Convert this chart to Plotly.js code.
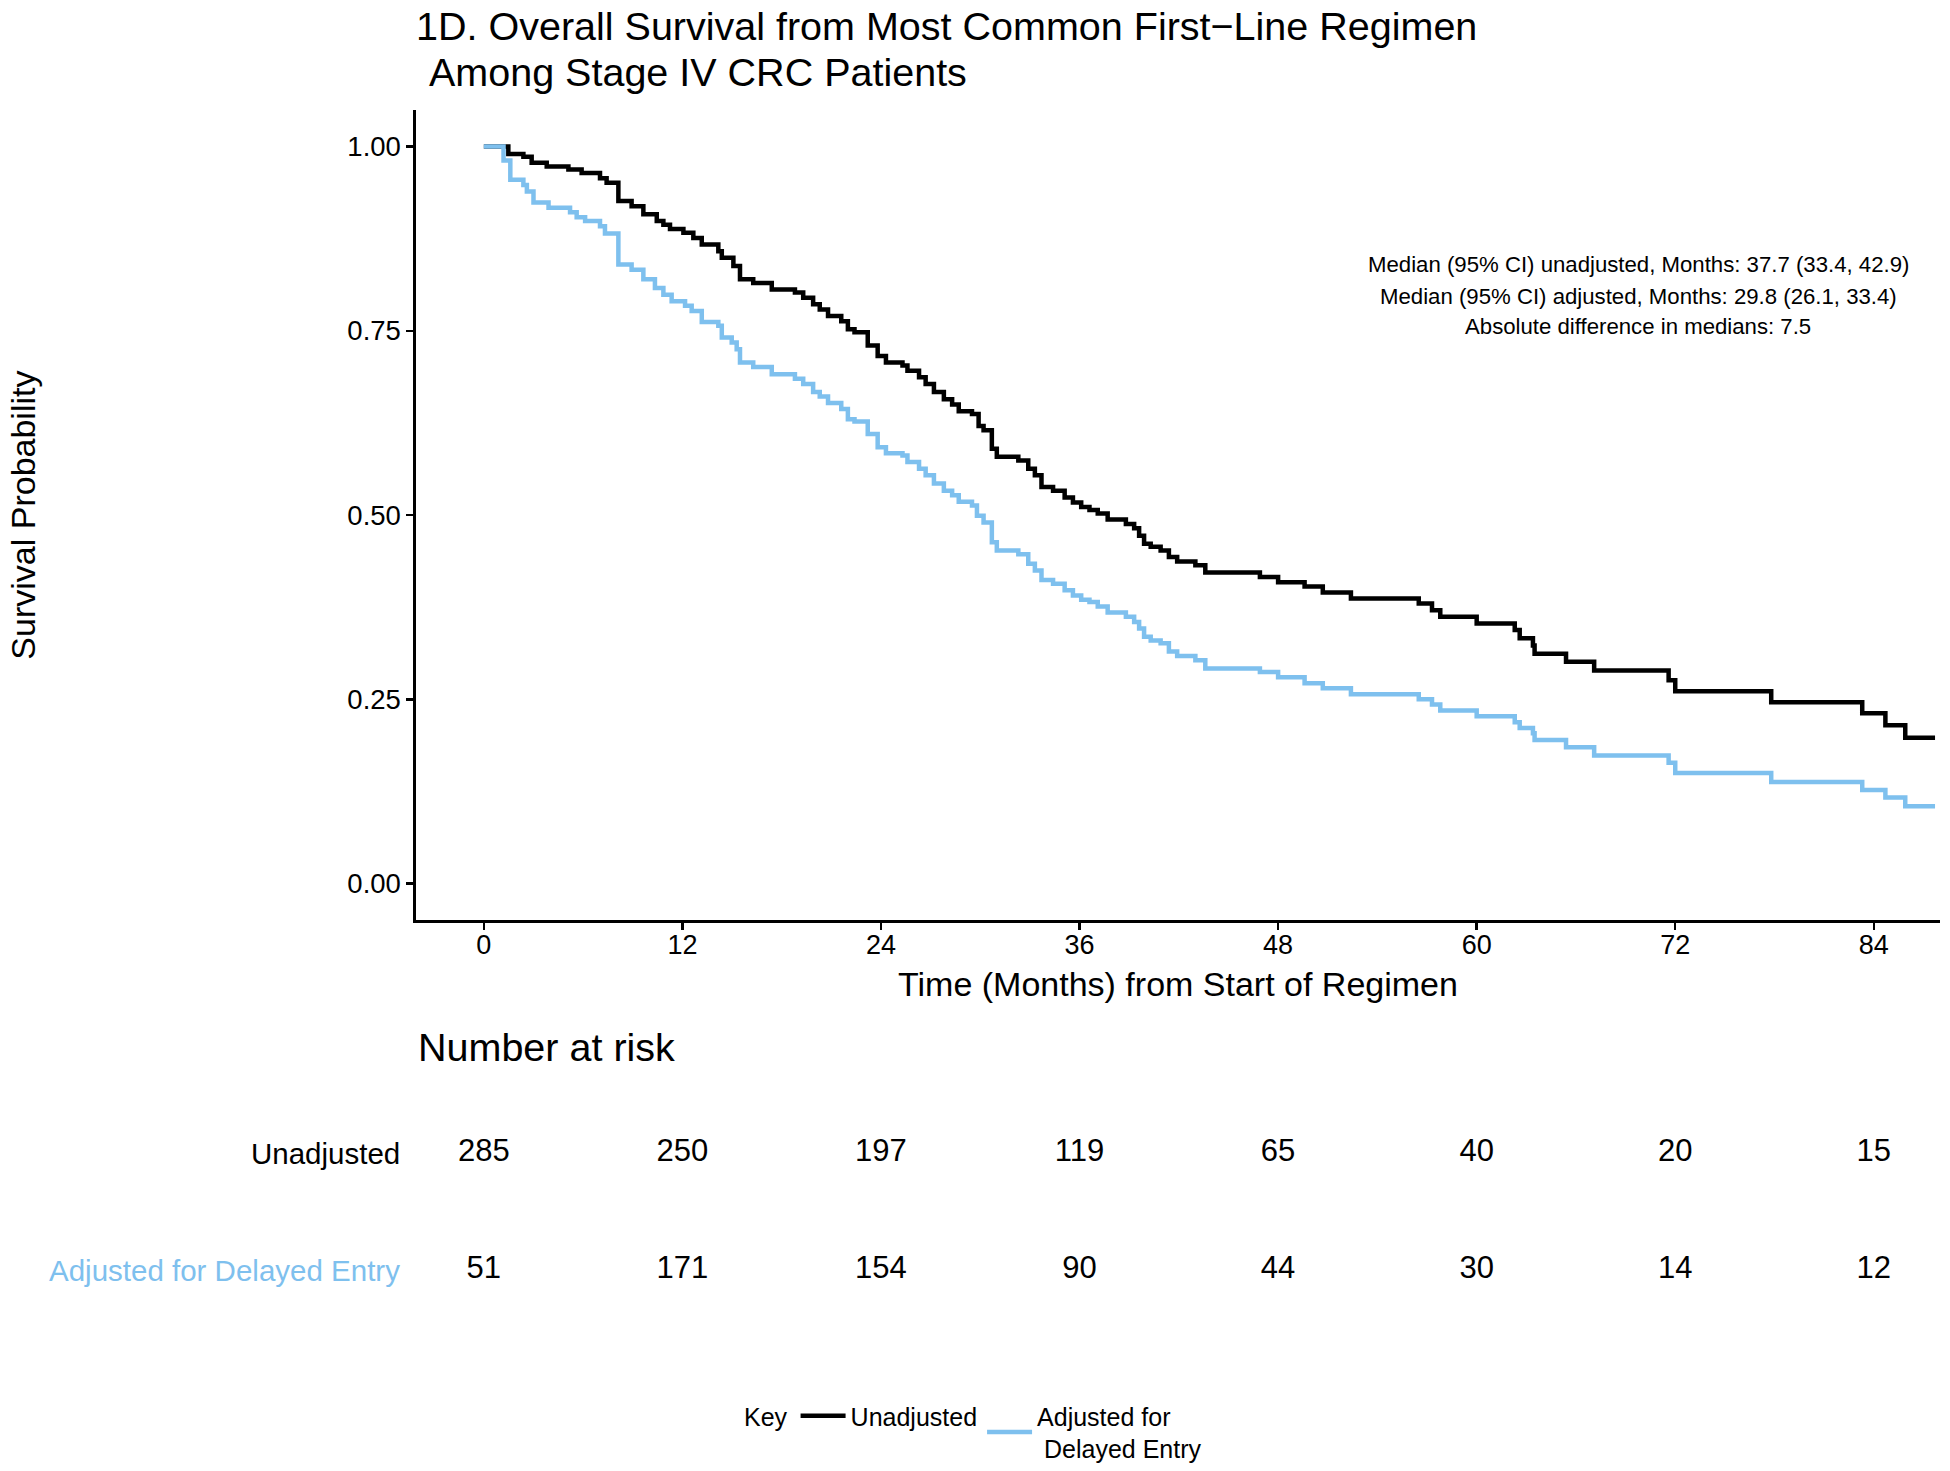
<!DOCTYPE html>
<html>
<head>
<meta charset="utf-8">
<script src="https://cdn.plot.ly/plotly-3.0.1.min.js"></script>
<style>html,body{margin:0;padding:0;background:#fff;}#chart{width:1950px;height:1471px;}</style>
</head>
<body>
<div id="chart"></div>
<script>
// ---- Data ----
const timesUnadj = [0, 1.48, 2.39, 2.89, 3.80, 5.11, 5.91, 7.02, 7.42, 8.13, 8.93, 9.64, 10.45, 10.85, 11.25, 12.06, 12.66, 13.17, 14.17, 14.38, 15.08, 15.48, 16.28, 17.40, 18.80, 19.30, 19.90, 20.30, 20.80, 21.60, 22.00, 22.40, 23.20, 23.80, 24.30, 25.30, 25.60, 26.30, 26.70, 27.20, 27.80, 28.30, 28.70, 29.50, 29.90, 30.20, 30.70, 31.00, 32.30, 32.90, 33.30, 33.70, 34.40, 35.10, 35.60, 36.10, 36.60, 37.10, 37.70, 38.80, 39.30, 39.60, 39.90, 40.30, 40.90, 41.40, 41.90, 43.00, 43.60, 46.90, 48.00, 49.60, 50.70, 52.40, 56.50, 57.30, 57.80, 60.00, 62.30, 62.60, 63.40, 63.50, 65.40, 67.10, 71.60, 72.00, 77.80, 83.30, 84.70, 85.90, 87.70];
const survUnadj = [1.000, 0.990, 0.986, 0.978, 0.973, 0.969, 0.964, 0.957, 0.951, 0.926, 0.919, 0.908, 0.899, 0.894, 0.888, 0.883, 0.876, 0.867, 0.858, 0.849, 0.838, 0.820, 0.815, 0.806, 0.802, 0.795, 0.786, 0.779, 0.770, 0.763, 0.752, 0.748, 0.730, 0.716, 0.707, 0.703, 0.696, 0.687, 0.678, 0.667, 0.657, 0.650, 0.641, 0.637, 0.621, 0.615, 0.590, 0.579, 0.574, 0.563, 0.554, 0.538, 0.533, 0.524, 0.517, 0.511, 0.507, 0.502, 0.494, 0.488, 0.482, 0.472, 0.461, 0.457, 0.452, 0.443, 0.437, 0.432, 0.422, 0.416, 0.409, 0.403, 0.395, 0.387, 0.380, 0.371, 0.362, 0.353, 0.344, 0.333, 0.323, 0.312, 0.301, 0.289, 0.276, 0.261, 0.246, 0.231, 0.215, 0.198, 0.198];

const timesAdj = [0, 1.19, 1.60, 2.39, 2.60, 3.00, 3.91, 5.21, 5.61, 6.12, 7.02, 7.32, 8.13, 8.93, 9.64, 10.34, 10.85, 11.35, 12.16, 12.56, 13.17, 14.17, 14.38, 14.98, 15.28, 15.48, 16.28, 17.40, 18.80, 19.30, 19.90, 20.30, 20.80, 21.60, 22.00, 22.40, 23.20, 23.80, 24.30, 25.30, 25.60, 26.30, 26.70, 27.20, 27.80, 28.30, 28.70, 29.50, 29.80, 30.20, 30.70, 31.00, 32.30, 32.90, 33.30, 33.70, 34.40, 35.10, 35.60, 36.10, 36.60, 37.10, 37.70, 38.80, 39.30, 39.60, 39.90, 40.30, 40.90, 41.40, 41.90, 43.00, 43.60, 46.90, 48.00, 49.60, 50.70, 52.40, 56.50, 57.30, 57.80, 60.00, 62.30, 62.60, 63.40, 63.50, 65.40, 67.10, 71.60, 72.00, 77.80, 83.30, 84.70, 85.90, 87.70];
const survAdj = [1.000, 0.981, 0.955, 0.948, 0.939, 0.924, 0.917, 0.911, 0.904, 0.899, 0.892, 0.882, 0.840, 0.833, 0.820, 0.808, 0.799, 0.790, 0.784, 0.777, 0.762, 0.757, 0.741, 0.734, 0.725, 0.707, 0.701, 0.691, 0.685, 0.678, 0.667, 0.661, 0.652, 0.644, 0.630, 0.627, 0.610, 0.592, 0.584, 0.581, 0.572, 0.563, 0.554, 0.543, 0.533, 0.527, 0.518, 0.513, 0.499, 0.490, 0.463, 0.452, 0.447, 0.434, 0.425, 0.412, 0.407, 0.398, 0.391, 0.385, 0.382, 0.376, 0.368, 0.362, 0.355, 0.346, 0.335, 0.330, 0.326, 0.315, 0.309, 0.303, 0.292, 0.287, 0.280, 0.272, 0.265, 0.257, 0.250, 0.243, 0.235, 0.227, 0.219, 0.211, 0.204, 0.195, 0.185, 0.174, 0.164, 0.150, 0.138, 0.127, 0.117, 0.105, 0.105];

const riskTimes = [0, 12, 24, 36, 48, 60, 72, 84];
const riskUnadj = [285, 250, 197, 119, 65, 40, 20, 15];
const riskAdj = [51, 171, 154, 90, 44, 30, 14, 12];
const groupNames = ['Unadjusted', 'Adjusted for Delayed Entry'];
const yTicks = [0, 0.25, 0.5, 0.75, 1.0];
const medianLines = [
  'Median (95% CI) unadjusted, Months: 37.7 (33.4, 42.9)',
  'Median (95% CI) adjusted, Months: 29.8 (26.1, 33.4)',
  'Absolute difference in medians: 7.5'
];

// ---- Styling ----
const W = 1950, H = 1471;
const FONT = 'Liberation Sans, Arial, Helvetica, sans-serif';
const BLACK = '#000000';
const BLUE = '#7EC0EE';
const px = v => v / W;
const py = v => 1 - v / H;

const traces = [
  {
    x: timesUnadj, y: survUnadj, type: 'scatter', mode: 'lines',
    line: {shape: 'hv', color: BLACK, width: 4.5},
    name: 'Unadjusted', xaxis: 'x', yaxis: 'y', hoverinfo: 'skip'
  },
  {
    x: timesAdj, y: survAdj, type: 'scatter', mode: 'lines',
    line: {shape: 'hv', color: BLUE, width: 4.5},
    name: 'Adjusted for<br>\u00A0Delayed Entry', xaxis: 'x', yaxis: 'y', hoverinfo: 'skip'
  },
  {
    x: riskTimes.concat(riskTimes),
    y: riskTimes.map(() => 1).concat(riskTimes.map(() => 0)),
    text: riskUnadj.concat(riskAdj).map(String),
    type: 'scatter', mode: 'text', textposition: 'middle center',
    textfont: {family: FONT, size: 31, color: BLACK},
    xaxis: 'x2', yaxis: 'y2', showlegend: false, hoverinfo: 'skip', cliponaxis: false
  }
];

const annotations = [
  {text: '\u00A0Among Stage IV CRC Patients', xref: 'paper', yref: 'paper', x: px(416), y: py(72),
   xanchor: 'left', yanchor: 'middle', showarrow: false, font: {family: FONT, size: 39.5, color: BLACK}},
  {text: 'Number at risk', xref: 'paper', yref: 'paper', x: px(416), y: py(1050),
   xanchor: 'left', yanchor: 'middle', showarrow: false, font: {family: FONT, size: 39.5, color: BLACK}},
  {text: groupNames[0], xref: 'paper', yref: 'y2', x: px(402), y: 1,
   xanchor: 'right', yanchor: 'middle', showarrow: false, font: {family: FONT, size: 29.5, color: BLACK}},
  {text: groupNames[1], xref: 'paper', yref: 'y2', x: px(402), y: 0,
   xanchor: 'right', yanchor: 'middle', showarrow: false, font: {family: FONT, size: 29.5, color: BLUE}}
];
const medY = [265, 297, 327];
medianLines.forEach((t, i) => annotations.push({
  text: t, xref: 'paper', yref: 'paper', x: px(1638), y: py(medY[i]),
  xanchor: 'center', yanchor: 'middle', showarrow: false, font: {family: FONT, size: 22.2, color: BLACK}
}));

const layout = {
  width: W, height: H,
  margin: {l: 0, r: 0, t: 0, b: 0},
  paper_bgcolor: '#ffffff', plot_bgcolor: '#ffffff',
  font: {family: FONT, color: BLACK},
  title: {
    text: '1D. Overall Survival from Most Common First\u2212Line Regimen',
    xref: 'paper', yref: 'container', x: px(416), xanchor: 'left', y: py(26), yanchor: 'middle',
    font: {family: FONT, size: 39.5, color: BLACK}
  },
  xaxis: {
    domain: [px(416), px(1940)], range: [-4.1, 88], anchor: 'y',
    tickvals: riskTimes, ticks: 'outside', ticklen: 7, tickwidth: 2.4, tickcolor: BLACK,
    ticklabelstandoff: -8,
    showline: true, linewidth: 2.6, linecolor: BLACK, showgrid: false, zeroline: false,
    tickfont: {family: FONT, size: 27, color: BLACK},
    title: {text: 'Time (Months) from Start of Regimen', font: {family: FONT, size: 34, color: BLACK}, standoff: 13},
    fixedrange: true
  },
  yaxis: {
    domain: [py(923), py(110)], range: [-0.05, 1.05], anchor: 'x',
    tickvals: yTicks, tickformat: '.2f', ticks: 'outside', ticklen: 7, tickwidth: 2.4, tickcolor: BLACK,
    showline: true, linewidth: 2.6, linecolor: BLACK, showgrid: false, zeroline: false,
    tickfont: {family: FONT, size: 27.5, color: BLACK},
    title: {text: 'Survival Probability', font: {family: FONT, size: 34, color: BLACK}, standoff: 302},
    fixedrange: true
  },
  xaxis2: {domain: [px(416), px(1940)], range: [-4.1, 88], anchor: 'y2', visible: false, fixedrange: true},
  yaxis2: {domain: [py(1332), py(1098)], range: [-0.5, 1.5], anchor: 'x2', visible: false, fixedrange: true},
  showlegend: true,
  legend: {
    orientation: 'h', x: px(742), xanchor: 'left', y: py(1436), yanchor: 'middle',
    font: {family: FONT, size: 25, color: BLACK},
    title: {text: 'Key', side: 'left', font: {family: FONT, size: 25, color: BLACK}},
    bgcolor: 'rgba(0,0,0,0)', itemwidth: 45, tracegroupgap: 0
  },
  annotations: annotations
};

Plotly.newPlot('chart', traces, layout, {displayModeBar: false, staticPlot: true});
</script>
</body>
</html>
